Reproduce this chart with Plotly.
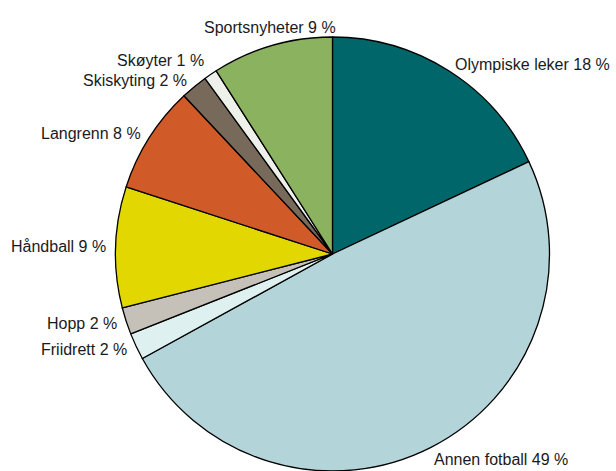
import math
import plotly.graph_objects as go

labels = ["Olympiske leker", "Annen fotball", "Friidrett", "Hopp", "Håndball",
          "Langrenn", "Skiskyting", "Skøyter", "Sportsnyheter"]
values = [18, 49, 2, 2, 9, 8, 2, 1, 9]
colors = ["#00666a", "#b3d4d9", "#def0f0", "#c5c0b8", "#e2d800",
          "#d05a28", "#776a5a", "#eef0ea", "#8ab25f"]

W, H = 616, 471
cx, cy, r = 332.5, 254, 217  # pie centre / radius in px

fig = go.Figure(go.Pie(
    labels=labels, values=values, sort=False, direction="clockwise", rotation=0,
    marker=dict(colors=colors, line=dict(color="#000000", width=1.3)),
    textinfo="none", hoverinfo="label+percent", showlegend=False,
    domain=dict(x=[(cx - r) / W, (cx + r) / W], y=[0, 2 * r / H]),
))

total = sum(values)
cum = 0
items = []
for lab, v in zip(labels, values):
    mid = (cum + v / 2) / total * 2 * math.pi
    cum += v
    s, c = math.sin(mid), math.cos(mid)
    R = r + (2 if c < -0.7 else 8)
    px = cx + R * s
    py = cy - R * c
    xa = "center" if abs(s) < 0.3 else ("left" if s > 0 else "right")
    ya = "bottom" if c > 0.9 else ("top" if c < -0.7 else "middle")
    items.append(dict(px=px, py=py, xa=xa, ya=ya, text=f"{lab} {round(v / total * 100)} %"))

# simple vertical de-overlap of left-side labels (push upper ones up)
left = sorted([it for it in items if it["xa"] == "right"], key=lambda d: -d["py"])
for a, b in zip(left, left[1:]):
    if a["py"] - b["py"] < 20:
        b["py"] = a["py"] - 20

annotations = [dict(
    x=it["px"] / W, y=1 - it["py"] / H, xref="paper", yref="paper",
    text=it["text"], showarrow=False, xanchor=it["xa"], yanchor=it["ya"],
    font=dict(family="Liberation Sans, Arial, sans-serif", size=16, color="#1a1a1a"),
) for it in items]

fig.update_layout(
    width=W, height=H, margin=dict(l=0, r=0, t=0, b=0),
    paper_bgcolor="white", plot_bgcolor="white",
    annotations=annotations,
)
fig.write_html("out.html", config={"displayModeBar": False},
               post_script="document.body.style.margin='0';document.body.style.overflow='hidden';")
